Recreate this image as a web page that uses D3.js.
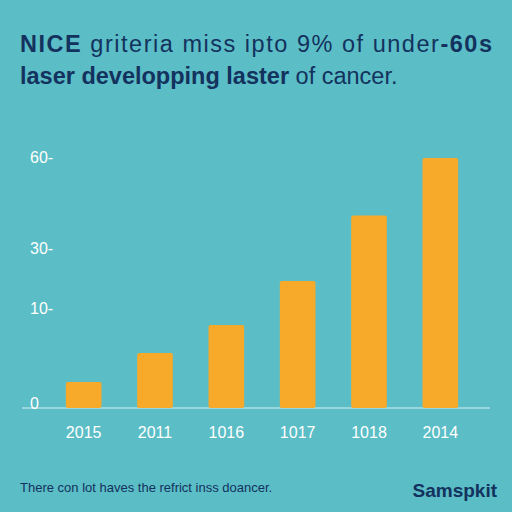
<!DOCTYPE html>
<html><head><meta charset="utf-8">
<script src="https://cdn.jsdelivr.net/npm/d3@7"></script>
<style>body{margin:0;background:#5bbdc5}</style>
</head><body>
<div id="chart"></div>
<script>
const W = 512, H = 512;
const categories = ["2015", "2011", "1016", "1017", "1018", "2014"];
const values = [2.6, 5.5, 8.3, 19, 40.7, 59.7];
const tickValues = [0, 10, 30, 60];
const tickLabels = ["0", "10-", "30-", "60-"];

const svg = d3.select("#chart").append("svg").attr("width", W).attr("height", H);
svg.append("rect").attr("width", W).attr("height", H).attr("fill", "#5bbdc5");

const navy = "#13325e";
const font = "Liberation Sans, Arial, sans-serif";

// title
const t1 = svg.append("text").attr("x", 20).attr("y", 52).attr("font-family", font)
  .attr("font-size", 23.5).attr("fill", navy).attr("textLength", 472);
t1.append("tspan").attr("font-weight", "bold").text("NICE");
t1.append("tspan").text(" griteria miss ipto 9% of under");
t1.append("tspan").attr("font-weight", "bold").text("-60s");
const t2 = svg.append("text").attr("x", 20).attr("y", 84).attr("font-family", font)
  .attr("font-size", 23.5).attr("fill", navy);
t2.append("tspan").attr("font-weight", "bold").text("laser developping laster");
t2.append("tspan").text(" of cancer.");

// piecewise y scale as drawn in the reference
const y = d3.scaleLinear().domain(tickValues).range([408, 308, 248, 157]);
const x = d3.scaleBand().domain(categories).range([48, 476]).paddingInner(0.5).paddingOuter(0.25);

svg.append("line").attr("x1", 22).attr("x2", 490).attr("y1", 408).attr("y2", 408)
  .attr("stroke", "#d8eef0").attr("stroke-width", 1);

svg.selectAll(".ytick").data(tickValues).enter().append("text")
  .attr("x", 30).attr("y", (d, i) => (i === 0 ? y(d) - 5 : y(d)) + 6)
  .attr("font-family", font).attr("font-size", 16).attr("fill", "#ffffff")
  .text((d, i) => tickLabels[i]);

svg.selectAll(".bar").data(values).enter().append("rect")
  .attr("x", (d, i) => x(categories[i])).attr("width", x.bandwidth())
  .attr("y", d => y(d)).attr("height", d => 408 - y(d))
  .attr("rx", 2).attr("fill", "#f7a92a");

svg.selectAll(".xlab").data(categories).enter().append("text")
  .attr("x", d => x(d) + x.bandwidth() / 2).attr("y", 438).attr("text-anchor", "middle")
  .attr("font-family", font).attr("font-size", 16).attr("fill", "#ffffff").text(d => d);

svg.append("text").attr("x", 20).attr("y", 492).attr("font-family", font)
  .attr("font-size", 13).attr("fill", navy).text("There con lot haves the refrict inss doancer.");
svg.append("text").attr("x", 497).attr("y", 497).attr("text-anchor", "end").attr("font-family", font)
  .attr("font-size", 19).attr("font-weight", "bold").attr("fill", navy).text("Samspkit");
</script>
</body></html>
